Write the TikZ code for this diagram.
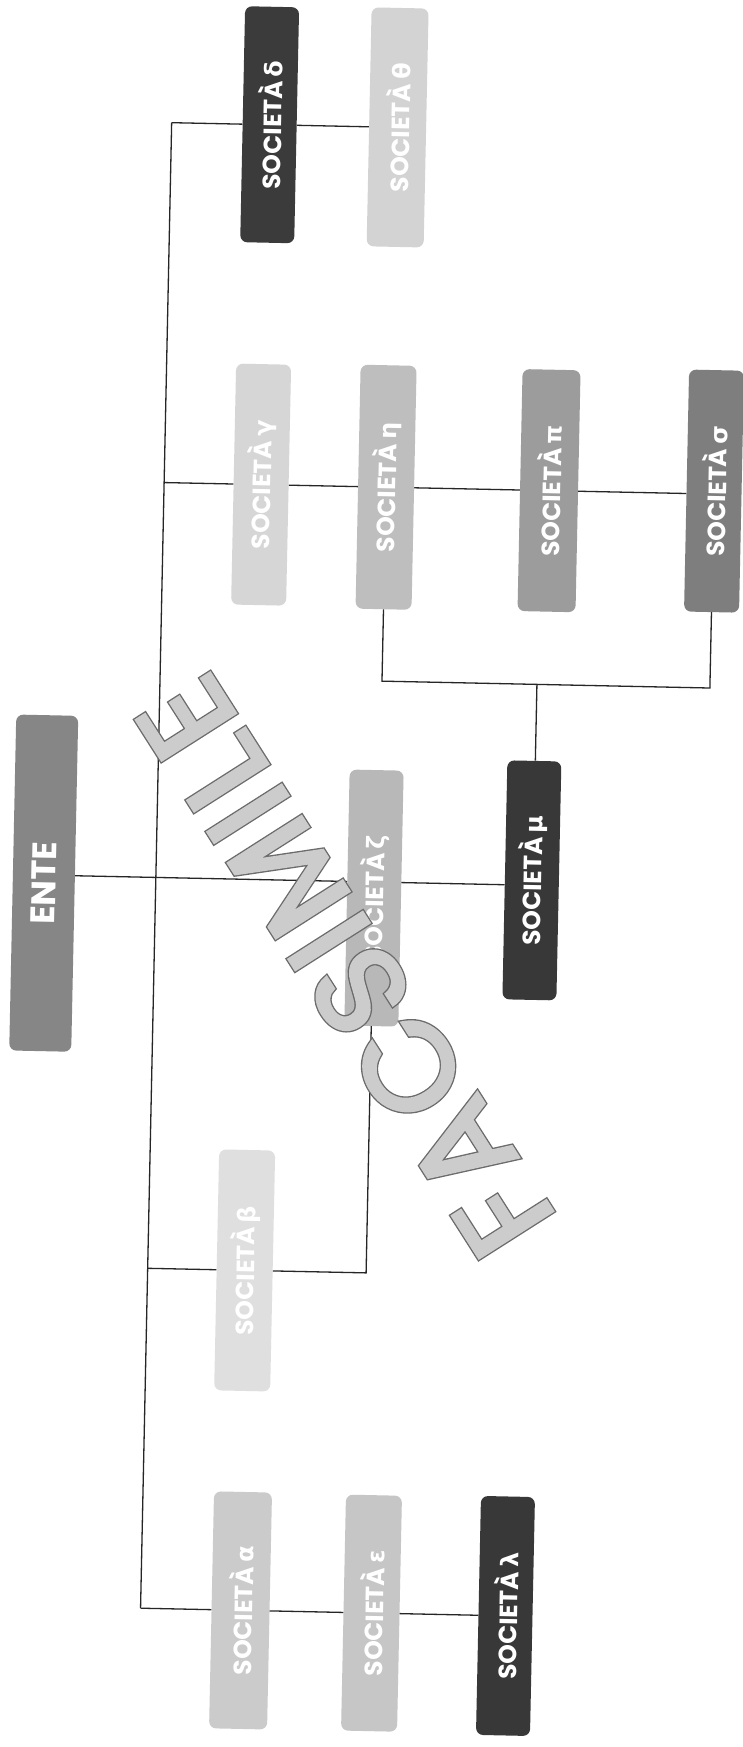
\documentclass[tikz,border=0pt]{standalone}
\usepackage{fontspec}
\newfontfamily\popf{Poppins}
\newfontfamily\wmf{Poppins}[LetterSpace=5.5]
\newfontfamily\grkf{DejaVu Sans}
\usetikzlibrary{calc}
\definecolor{cdark}{HTML}{383838}
\definecolor{cdelta}{HTML}{3B3B3B}
\definecolor{ctheta}{HTML}{D3D3D3}
\definecolor{cgamma}{HTML}{D6D6D6}
\definecolor{ceta}{HTML}{BEBEBE}
\definecolor{cpi}{HTML}{9C9C9C}
\definecolor{csigma}{HTML}{7E7E7E}
\definecolor{cente}{HTML}{868686}
\definecolor{czeta}{HTML}{B8B8B8}
\definecolor{cbeta}{HTML}{DFDFDF}
\definecolor{calpha}{HTML}{CBCBCB}
\definecolor{ceps}{HTML}{C6C6C6}
\tikzset{
  box/.style={rounded corners=7pt, minimum width=55pt, minimum height=240pt,
    inner sep=0pt, text=white, font=\popf\bfseries\fontsize{25}{25}\selectfont},
  conn/.style={line width=1.3pt, draw=black!85},
  wm/.style={rotate=123.7, inner sep=0pt, font=\wmf\fontsize{124}{124}\selectfont},
}
\newcommand\soc[1]{\rotatebox{90}{SOCIETÀ\,{\grkf\bfseries\fontsize{24}{24}\selectfont #1}}}
\newcommand\rimtext[1]{\special{pdf:code 2 Tr 6.5 w 0.42 G}#1\special{pdf:code 0 Tr}}
\newcommand\filltext[1]{\special{pdf:code 2 Tr 3.8 w 0.8 G}#1\special{pdf:code 0 Tr}}
\begin{document}
\begin{tikzpicture}[x=1pt,y=-1pt]
\fill[white] (0,0) rectangle (742,1747);
\useasboundingbox (0,0) rectangle (742,1747);
\begin{scope}[rotate around={-1.2:(371,873)}, transform shape]
% nodes
\node[box, fill=cdelta, minimum width=54pt, minimum height=236pt] (delta) at (254,127) {\soc{δ}};
\node[box, fill=ctheta, minimum width=57pt, minimum height=239pt] (theta) at (382,127) {\soc{θ}};
\node[box, fill=cgamma, minimum width=55pt, minimum height=241pt] (gamma) at (253,487) {\soc{γ}};
\node[box, fill=ceta, minimum width=56pt, minimum height=244pt] (eta) at (378,487) {\soc{η}};
\node[box, fill=cpi, minimum width=58pt, minimum height=242pt] (pi) at (541,487) {\soc{π}};
\node[box, fill=csigma, minimum width=55pt, minimum height=242pt] (sigma) at (706,484) {\soc{σ}};
\node[box, fill=cente, minimum width=62pt, minimum height=336pt, font=\popf\bfseries\fontsize{34}{34}\selectfont] (ente) at (44,890) {\rotatebox{90}{ENTE}};
\node[box, fill=czeta, minimum width=54pt, minimum height=256pt] (zeta) at (374.5,898) {\soc{ζ}};
\node[box, fill=cdark, minimum width=54pt, minimum height=239pt] (mu) at (532,877) {\soc{μ}};
\node[box, fill=cbeta, minimum width=56pt, minimum height=241pt] (beta) at (253,1273) {\soc{β}};
\node[box, fill=calpha, minimum width=58pt, minimum height=237pt] (alpha) at (256,1613) {\soc{α}};
\node[box, fill=ceps, minimum width=56pt, minimum height=236pt] (eps) at (387,1613) {\soc{ε}};
\node[box, fill=cdark, minimum width=54pt, minimum height=239pt] (lambda) at (521,1613) {\soc{λ}};
% coordinates
\coordinate (mtop) at (156,127);
\coordinate (mbot) at (156,1613);
\coordinate (m2) at (156,487);
\coordinate (m3) at (156,882);
\coordinate (m4) at (156,1273);
\coordinate (br) at (533,681);
% connectors
\draw[conn] (mtop) -- (mbot);
\draw[conn] (mtop) -- (delta.west);
\draw[conn] (delta.east) -- (theta.west);
\draw[conn] (m2) -- (gamma.west);
\draw[conn] (gamma.east) -- (eta.west);
\draw[conn] (eta.east) -- (pi.west);
\draw[conn] (pi.east) -- (sigma.west |- pi.east);
\draw[conn] (eta.south) |- (sigma.south |- br) -- (sigma.south);
\draw[conn] (br) -- (br |- mu.north);
\draw[conn] (ente.east |- m3) -- (zeta.west |- m3);
\draw[conn] (zeta.east |- m3) -- (mu.west |- m3);
\draw[conn] (zeta.south) |- (beta.east);
\draw[conn] (m4) -- (beta.west);
\draw[conn] (mbot) -- (alpha.west);
\draw[conn] (alpha.east) -- (eps.west);
\draw[conn] (eps.east) -- (lambda.west);
% watermark
\coordinate (wmc) at (347,967);
\node[wm, text=gray!84] (wmr) at (wmc) {\rimtext{FACSIMILE}};
\node[wm, text=gray!40] (wm) at (wmc) {\filltext{FACSIMILE}};
\end{scope}
\end{tikzpicture}
\end{document}
